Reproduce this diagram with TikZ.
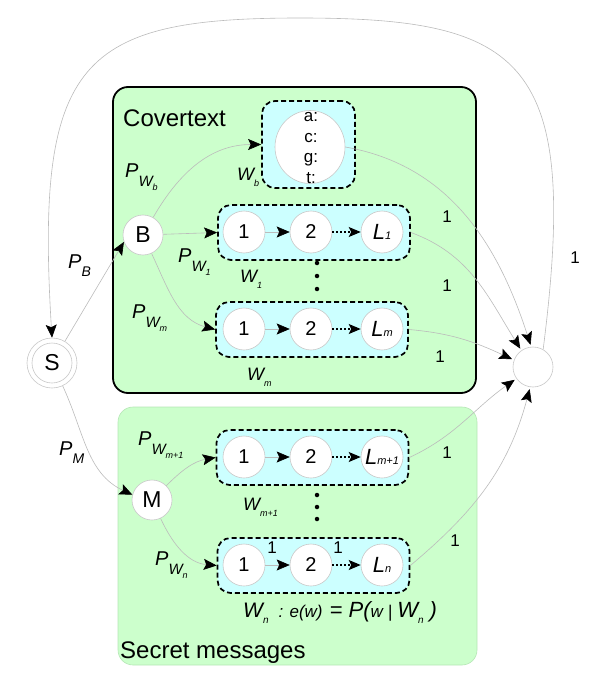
\documentclass[tikz,border=0pt]{standalone}
\usepackage{fontspec}
\setmainfont{Liberation Sans}
\usetikzlibrary{arrows.meta,shapes.geometric}
\definecolor{lgreen}{HTML}{CCFFCC}
\definecolor{lcyan}{HTML}{CCFFFF}
\definecolor{edgegray}{HTML}{BBBBBB}
\definecolor{circgray}{HTML}{C8C8C8}
\definecolor{greenedge}{HTML}{B5E6B5}
\newcommand\fs[1]{\fontsize{#1}{#1}\selectfont}
\newcommand\PWlab[1]{{\itshape\fs{20}P\raisebox{-9pt}{\fs{15}W\raisebox{-4pt}{\fs{9}#1}}}}
\newcommand\Plab[1]{{\itshape\fs{20}P\raisebox{-8pt}{\fs{14}#1}}}
\newcommand\Wlab[1]{{\itshape\fs{18}W\raisebox{-6pt}{\fs{9}#1}}}
\newcommand\Llab[1]{{\itshape\fs{22}L\fs{11}#1}}
\begin{document}
\begin{tikzpicture}[x=1pt,y=-1pt,
  gbox/.style={fill=lgreen, rounded corners=15pt, inner sep=0pt},
  dbox/.style={draw=black, fill=lcyan, line width=1.7pt, dash pattern=on 5pt off 3pt,
     rounded corners=13pt, minimum width=192pt, minimum height=55pt, inner sep=0pt},
  cnode/.style={circle, draw=circgray, line width=0.6pt, fill=white, minimum size=42pt, inner sep=0pt, font=\fs{20}},
  bignode/.style={circle, draw=circgray, line width=0.6pt, fill=white, minimum size=40pt, inner sep=0pt, font=\fs{23}},
  conn/.style={draw=edgegray, line width=0.6pt, -{Stealth[black, length=13pt, width=11pt, inset=2.5pt]}},
  dotconn/.style={draw=black, line width=1.1pt, dash pattern=on 2pt off 2pt, -{Stealth[black, length=12pt, width=10pt, inset=2.5pt]}},
  lab/.style={inner sep=0pt},
  one/.style={inner sep=0pt, font=\fs{17}},
  dotn/.style={circle, fill=black, inner sep=0pt, minimum size=4.5pt}
]
\useasboundingbox (0,0) rectangle (600,687);
% containers
\node[gbox, draw=black, line width=1.8pt, minimum width=363pt, minimum height=306pt] (cover) at (294.5,240) {};
\node[gbox, draw=greenedge, line width=0.6pt, minimum width=359pt, minimum height=258pt] (secret) at (297.5,536) {};
\node[lab, anchor=base west, font=\fs{24}] (tcover) at (123,127) {Covertext};
\node[lab, anchor=base west, font=\fs{24}] (tsecret) at (120,658) {Secret messages};
% dashed boxes
\node[dbox, minimum width=93pt, minimum height=87pt] (Wb) at (308.5,144.5) {};
\node[dbox] (W1) at (314,232.5) {};
\node[dbox] (Wm) at (312,329.5) {};
\node[dbox] (Wp) at (312.5,457.5) {};
\node[dbox] (Wn) at (313.5,565.5) {};
% nodes
\node[ellipse, draw=circgray, line width=0.6pt, fill=white, minimum width=70pt, minimum height=73pt, inner sep=0pt] (ell) at (310,147) {};
\node[lab, align=center, font=\fontsize{17}{20.5}\selectfont] (acgt) at (311,148) {a:\\c:\\g:\\t:};
\node[circle, draw=circgray, line width=0.6pt, fill=white, minimum size=50pt, inner sep=0pt] (S) at (52,363) {};
\node[circle, draw=circgray, line width=0.6pt, fill=white, minimum size=40pt, inner sep=0pt, font=\fs{23}] (Sin) at (52,363) {S};
\node[bignode] (B) at (143,235) {B};
\node[bignode] (M) at (152,500) {M};
\node[bignode] (sink) at (533,367) {};
\node[cnode] (a1) at (244,232) {1};
\node[cnode] (a2) at (311,232) {2};
\node[cnode] (aL) at (382,232) {\Llab{1}};
\node[cnode] (b1) at (244,329) {1};
\node[cnode] (b2) at (311,329) {2};
\node[cnode] (bL) at (382,329) {\Llab{m}};
\node[cnode] (c1) at (244,457) {1};
\node[cnode] (c2) at (311,457) {2};
\node[cnode] (cL) at (382,457) {\Llab{m+1}};
\node[cnode] (d1) at (244,565) {1};
\node[cnode] (d2) at (311,565) {2};
\node[cnode] (dL) at (382,565) {\Llab{n}};
% dots
\node[dotn] (p1) at (317,263) {};
\node[dotn] (p2) at (317,276) {};
\node[dotn] (p3) at (317,289) {};
\node[dotn] (q1) at (317,495) {};
\node[dotn] (q2) at (317,507) {};
\node[dotn] (q3) at (317,519) {};
% chain edges
\draw[conn] (a1) -- (a2);
\draw[dotconn] (a2) -- (aL);
\draw[conn] (b1) -- (b2);
\draw[dotconn] (b2) -- (bL);
\draw[conn] (c1) -- (c2);
\draw[dotconn] (c2) -- (cL);
\draw[conn] (d1) -- (d2);
\draw[dotconn] (d2) -- (dL);
% source edges
\draw[conn] (S) -- (B.200);
\draw[conn] (S.-65) to[out=-65,in=155] (M.165);
\draw[conn] (B.60) to[out=60,in=180] (Wb.west);
\draw[conn] (B) -- (W1.west);
\draw[conn] (B.-65) to[out=-65,in=165] (Wm.west);
\draw[conn] (M.45) to[out=45,in=190] (Wp.west);
\draw[conn] (M.-65) to[out=-65,in=175] (Wn.west);
% to sink
\draw[conn, shorten >=2pt] (ell.east) to[out=-10,in=108] (sink.95);
\draw[conn, shorten >=2pt] (W1.east) to[out=-20,in=122] (sink.125);
\draw[conn, shorten >=2pt] (Wm.east) to[out=-5,in=155] (sink.160);
\draw[conn, shorten >=2pt] (Wp.east) to[out=25,in=215] (sink.215);
\draw[conn, shorten >=2pt] (Wn.east) to[out=40,in=255] (sink.262);
\draw[conn] (sink.60) .. controls (580,60) and (525,18) .. (300,18) .. controls (80,18) and (35,60) .. (S.north);
% labels
\node[one] (l1) at (447,217) {1};
\node[one] (l2) at (447,286) {1};
\node[one] (l3) at (440,357) {1};
\node[one] (l4) at (447,453) {1};
\node[one] (l5) at (455,541) {1};
\node[one] (l6) at (575,258) {1};
\node[one] (l7) at (272,548) {1};
\node[one] (l8) at (338,548) {1};
\node[lab, anchor=base west] (PWb) at (125,178) {\PWlab{b}};
\node[lab, anchor=base west] (PW1) at (178,262) {\PWlab{1}};
\node[lab, anchor=base west] (PWm) at (132,318) {\PWlab{m}};
\node[lab, anchor=base west] (PWp) at (138,445) {\PWlab{m+1}};
\node[lab, anchor=base west] (PWn) at (155,565) {\PWlab{n}};
\node[lab, anchor=base west] (PB) at (68,268) {\Plab{B}};
\node[lab, anchor=base west] (PM) at (59,455) {\Plab{M}};
\node[lab, anchor=base west] (tWb) at (237,180) {\Wlab{b}};
\node[lab, anchor=base west] (tW1) at (240,282) {\Wlab{1}};
\node[lab, anchor=base west] (tWm) at (247,380) {\Wlab{m}};
\node[lab, anchor=base west] (tWp) at (243,510) {\Wlab{m+1}};
\node[lab, anchor=base west] (tWn) at (243,617) {\itshape\fs{21}W\raisebox{-6pt}{\fs{10}n}\hspace{10pt}\fs{17}: e(w)\hspace{7pt}\fs{22}= P(\fs{17}w\hspace{5pt}|\hspace{5pt}\fs{22}W\raisebox{-6pt}{\fs{10}n}\hspace{6pt}\fs{22})};
\end{tikzpicture}
\end{document}
